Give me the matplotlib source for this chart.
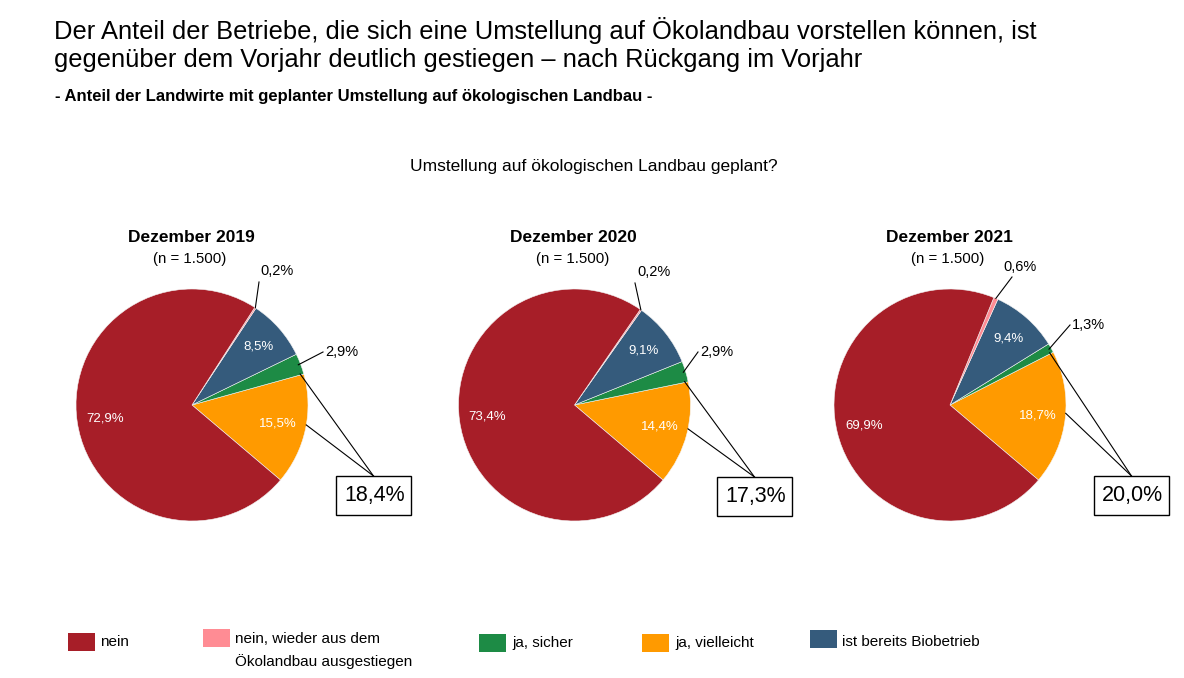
import matplotlib
matplotlib.use('Agg')
import matplotlib.pyplot as plt
from matplotlib.patches import Rectangle
import numpy as np

W, H = 1184, 678
plt.rcParams['font.family'] = ['Liberation Sans', 'DejaVu Sans']

# ---------------- data ----------------
categories = ['ja, vielleicht', 'ja, sicher', 'ist bereits Biobetrieb',
              'nein, wieder aus dem\nÖkolandbau ausgestiegen', 'nein']
colors = ['#FF9A00', '#1D8B45', '#355B7C', '#FF8C94', '#A71E28']
periods = ['Dezember 2019', 'Dezember 2020', 'Dezember 2021']
samples = ['(n = 1.500)', '(n = 1.500)', '(n = 1.500)']
vielleicht = [15.5, 14.4, 18.7]
sicher = [2.9, 2.9, 1.3]
bio = [8.5, 9.1, 9.4]
ausgestiegen = [0.2, 0.2, 0.6]
nein = [72.9, 73.4, 69.9]
summe_ja = [18.4, 17.3, 20.0]

legend_order = [4, 3, 1, 0, 2]

title_lines = ['Der Anteil der Betriebe, die sich eine Umstellung auf Ökolandbau vorstellen können, ist',
               'gegenüber dem Vorjahr deutlich gestiegen – nach Rückgang im Vorjahr']
subtitle = '- Anteil der Landwirte mit geplanter Umstellung auf ökologischen Landbau -'
question = 'Umstellung auf ökologischen Landbau geplant?'


def fmt(v):
    return f"{v:.1f}".replace('.', ',') + '%'


# ---------------- layout ----------------
cxs = [192, 574.5, 950]
cy = 405
R = 116
START = -40.3
pink_line_top = [(259, 282), (635, 283), (1012, 277)]
pink_text = [(260, 271), (637, 272), (1003, 267)]
green_end = [(323, 352), (698, 352), (1070, 325)]
box_ll = [(336, 476), (717, 477), (1094, 476)]
BOX_W, BOX_H = 75, 39


def Y(y):
    return H - y


fig = plt.figure(figsize=(W / 100, H / 100), dpi=100)
ax = fig.add_axes([0, 0, 1, 1])

for i in range(3):
    vals = [vielleicht[i], sicher[i], bio[i], ausgestiegen[i], nein[i]]
    inner = [fmt(vielleicht[i]), '', fmt(bio[i]), '', fmt(nein[i])]
    cx = cxs[i]
    wedges, texts = ax.pie(vals, colors=colors, startangle=START, counterclock=True,
                           center=(cx, Y(cy)), radius=R, labels=inner, labeldistance=0.76,
                           textprops=dict(color='white', fontsize=9.5, ha='center', va='center'),
                           wedgeprops=dict(edgecolor='#f4f4f4', linewidth=0.4),
                           frame=True, normalize=True)

    def pt(angle, r=R):
        a = np.deg2rad(angle)
        return cx + r * np.cos(a), Y(cy) + r * np.sin(a)

    # header
    ax.text(cx - 1, Y(237), periods[i], ha='center', va='center', fontsize=12.5, fontweight='bold')
    ax.text(cx - 2, Y(259), samples[i], ha='center', va='center', fontsize=10.8)

    # pink slice label
    w = wedges[3]
    ax_, ay_ = pt((w.theta1 + w.theta2) / 2)
    lx, ly = pink_line_top[i]
    ax.plot([ax_, lx], [ay_, Y(ly)], color='black', lw=0.8)
    tx, ty = pink_text[i]
    ax.text(tx, Y(ty), fmt(ausgestiegen[i]), ha='left', va='center', fontsize=10.5)

    # green slice label
    w = wedges[1]
    gx, gy = pt((w.theta1 + w.theta2) / 2, R * 0.98)
    ex, ey = green_end[i]
    ax.plot([gx, ex], [gy, Y(ey)], color='black', lw=0.8)
    ax.text(ex + 2, Y(ey), fmt(sicher[i]), ha='left', va='center', fontsize=10.5)

    # sum box
    bx, by = box_ll[i]
    apex = (bx + BOX_W / 2, Y(by))
    wo = wedges[0]
    p1 = pt((wo.theta1 + wo.theta2) / 2 + 2.5, R * 1.0)
    p2 = pt(wedges[1].theta1 + 0.5, R * 0.97)
    ax.plot([p1[0], apex[0]], [p1[1], apex[1]], color='black', lw=0.8)
    ax.plot([p2[0], apex[0]], [p2[1], apex[1]], color='black', lw=0.8)
    ax.add_patch(Rectangle((bx, Y(by + BOX_H)), BOX_W, BOX_H, facecolor='white',
                           edgecolor='black', lw=1.0, zorder=3))
    ax.text(bx + BOX_W / 2 + 1, Y(by + BOX_H / 2), fmt(summe_ja[i]), ha='center', va='center',
            fontsize=15.5, zorder=4)

# titles
for j, line in enumerate(title_lines):
    ax.text(54, Y(30 + 29.5 * j), line, ha='left', va='center', fontsize=18.4)
ax.text(55, Y(97), subtitle, ha='left', va='center', fontsize=12, fontweight='bold')
ax.text(594, Y(167), question, ha='center', va='center', fontsize=12.5)

# legend
leg_sq = [(68, 633), (203, 629), (479, 634), (642, 634), (810, 630)]
leg_tx = [(100, 642), (235, 639), (512, 643), (675, 643), (842, 642)]
for k, ci in enumerate(legend_order):
    sx, sy = leg_sq[k]
    ax.add_patch(Rectangle((sx, Y(sy + 18)), 27, 18, facecolor=colors[ci], edgecolor='none'))
    tx, ty = leg_tx[k]
    for j, line in enumerate(categories[ci].split('\n')):
        ax.text(tx, Y(ty + 22.5 * j), line, ha='left', va='center', fontsize=11)

ax.set_xlim(0, W)
ax.set_ylim(0, H)
ax.set_aspect('auto')
ax.axis('off')
fig.savefig('out.png', dpi=100, facecolor='white')
